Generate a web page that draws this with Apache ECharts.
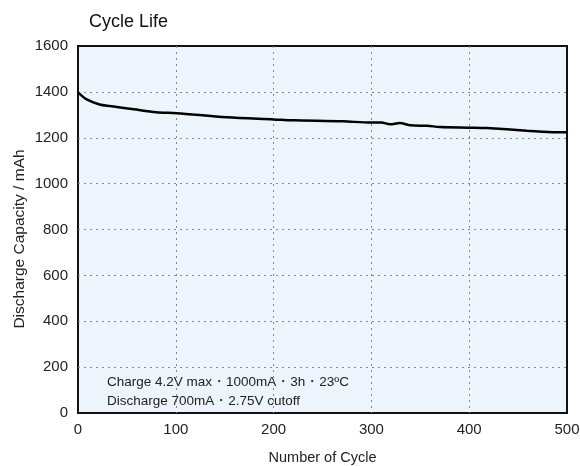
<!DOCTYPE html>
<html>
<head>
<meta charset="utf-8">
<script src="https://cdn.jsdelivr.net/npm/echarts@6/dist/echarts.min.js"></script>
<style>
  html, body { margin: 0; padding: 0; background: #fff; }
  #chart { width: 580px; height: 466px; }
</style>
</head>
<body>
<div id="chart"></div>
<script>
// Cycle number vs. discharge capacity (mAh)
const cycles = [0, 9, 22, 33, 57, 80, 101, 152, 200, 220, 271, 299, 310, 319, 329, 340, 357, 370, 401, 418, 459, 490, 500];
const capacity = [1398, 1367, 1345, 1338, 1324, 1311, 1307, 1289, 1280, 1276, 1272, 1266, 1266, 1259, 1264, 1254, 1252, 1247, 1244, 1242, 1231, 1224, 1224];
const xTicks = [0, 100, 200, 300, 400, 500];
const yTicks = [0, 200, 400, 600, 800, 1000, 1200, 1400, 1600];
const conditionLines = ['Charge 4.2V max\u30fb1000mA\u30fb3h\u30fb23\u00baC', 'Discharge 700mA\u30fb2.75V cutoff'];

const font = '"Liberation Sans", Arial, sans-serif';
const chart = echarts.init(document.getElementById('chart'));

chart.setOption({
  animation: false,
  textStyle: { fontFamily: font },
  title: {
    text: 'Cycle Life',
    left: 84, top: 8,
    textStyle: { fontSize: 18, fontWeight: 'normal', color: '#111', fontFamily: font }
  },
  grid: {
    left: 78, top: 46, right: 13, bottom: 53,
    outerBoundsMode: 'none',
    containLabel: false,
    show: true,
    backgroundColor: '#eef4fb',
    borderColor: '#111',
    borderWidth: 2
  },
  xAxis: {
    type: 'value',
    min: xTicks[0], max: xTicks[xTicks.length - 1], interval: 100,
    name: 'Number of Cycle',
    nameLocation: 'middle', nameGap: 37,
    nameTextStyle: { fontSize: 14.5, color: '#222', fontFamily: font },
    axisLine: { show: false },
    axisTick: { show: false },
    axisLabel: { fontSize: 15, color: '#222', margin: 9, fontFamily: font },
    splitLine: { show: true, showMinLine: false, showMaxLine: false, lineStyle: { color: '#888', type: [2, 4], width: 1 } }
  },
  yAxis: {
    type: 'value',
    min: yTicks[0], max: yTicks[yTicks.length - 1], interval: 200,
    axisLine: { show: false },
    axisTick: { show: false },
    axisLabel: { fontSize: 15, color: '#222', margin: 10, fontFamily: font, formatter: v => String(v) },
    splitLine: { show: true, showMinLine: false, showMaxLine: false, lineStyle: { color: '#888', type: [2, 4], width: 1 } }
  },
  series: [{
    type: 'line',
    data: cycles.map((c, i) => [c, capacity[i]]),
    showSymbol: false,
    smooth: 0.3,
    lineStyle: { color: '#000', width: 2.5 }
  }],
  graphic: [
    {
      type: 'text',
      x: 20, y: 239,
      rotation: Math.PI / 2,
      style: {
        text: 'Discharge Capacity / mAh',
        fontSize: 15.5, fill: '#222', fontFamily: font,
        align: 'center', verticalAlign: 'middle'
      }
    }
  ].concat(conditionLines.map((t, i) => ({
    type: 'text',
    left: 107,
    top: 375 + i * 19,
    style: { text: t, fontSize: 13.5, fill: '#222', fontFamily: font }
  })))
});
</script>
</body>
</html>
